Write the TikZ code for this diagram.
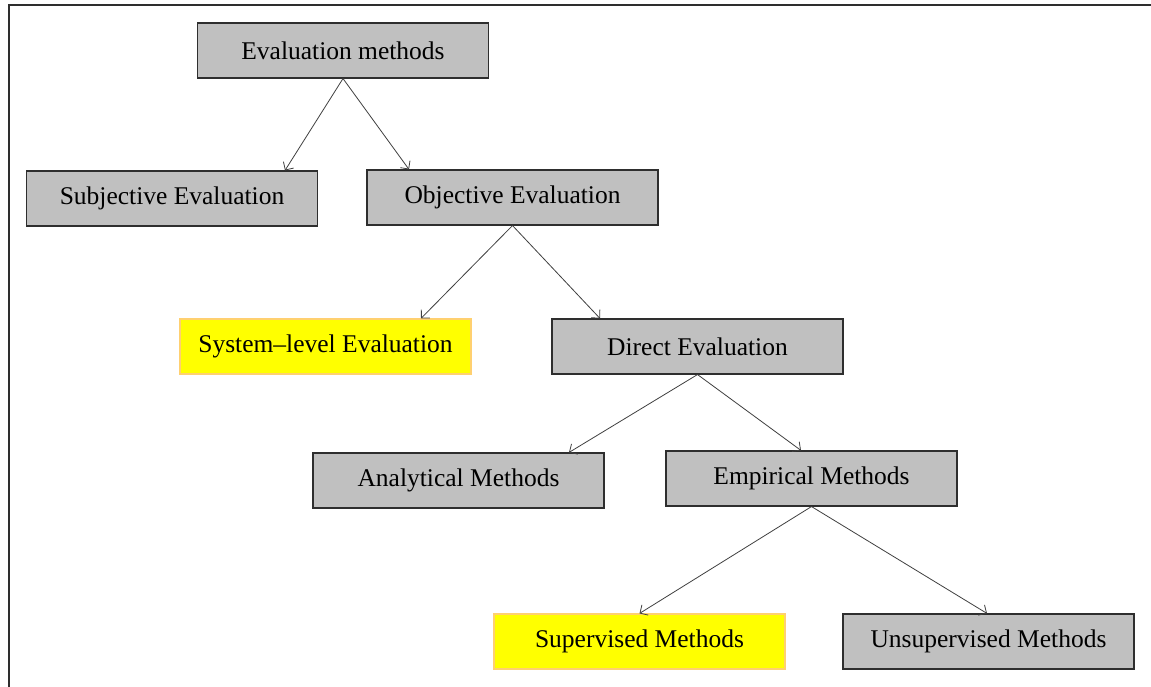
\documentclass[tikz,border=0pt]{standalone}
\usepackage{fontspec}
\setmainfont{Liberation Serif}
\usetikzlibrary{arrows.meta}
\definecolor{boxgray}{HTML}{C0C0C0}
\definecolor{edgegray}{HTML}{2E2E2E}
\definecolor{arrgray}{HTML}{404040}
\definecolor{hiyellow}{HTML}{FFFF00}
\definecolor{hiedge}{HTML}{FFD070}
\begin{document}
\begin{tikzpicture}[x=1pt,y=-1pt,
  box/.style={draw=edgegray,fill=boxgray,line width=1.1pt,minimum width=291pt,minimum height=55pt,inner sep=0pt,font=\fontsize{25.5}{30}\selectfont,text=black},
  hibox/.style={box,draw=hiedge,fill=hiyellow},
  arr/.style={draw=arrgray,line width=0.8pt,-{Straight Barb[length=6pt,width=12pt]}}]
\useasboundingbox (0,0) rectangle (1151,687);
\fill[white] (0,0) rectangle (1151,687);
\draw[edgegray,line width=2pt] (8.5,687) -- (8.5,5.5) -- (1151,5.5);
\node[box] (eval) at (343,50.5) {Evaluation methods};
\node[box] (subj) at (172,198.5) {Subjective Evaluation};
\node[box] (obj) at (512.5,197.5) {Objective Evaluation};
\node[hibox] (sys) at (325.5,346.5) {System–level Evaluation};
\node[box] (dir) at (697.5,346.5) {Direct Evaluation};
\node[box] (ana) at (458.5,480.5) {Analytical Methods};
\node[box] (emp) at (811.5,478.5) {Empirical Methods};
\node[hibox] (sup) at (639.5,641.5) {Supervised Methods};
\node[box] (uns) at (988.5,641.5) {Unsupervised Methods};
\coordinate (subjIn) at ([xshift=113pt]subj.north);
\coordinate (objIn) at ([xshift=-103.5pt]obj.north);
\coordinate (sysIn) at ([xshift=95.5pt]sys.north);
\coordinate (dirIn) at ([xshift=-97.5pt]dir.north);
\coordinate (anaIn) at ([xshift=110.5pt]ana.north);
\coordinate (empIn) at ([xshift=-10.5pt]emp.north);
\coordinate (supIn) at ([xshift=0pt]sup.north);
\coordinate (unsIn) at ([xshift=-1.5pt]uns.north);
\draw[arr] (eval.south) -- (subjIn);
\draw[arr] (eval.south) -- (objIn);
\draw[arr] (obj.south) -- (sysIn);
\draw[arr] (obj.south) -- (dirIn);
\draw[arr] (dir.south) -- (anaIn);
\draw[arr] (dir.south) -- (empIn);
\draw[arr] (emp.south) -- (supIn);
\draw[arr] (emp.south) -- (unsIn);
\end{tikzpicture}
\end{document}
